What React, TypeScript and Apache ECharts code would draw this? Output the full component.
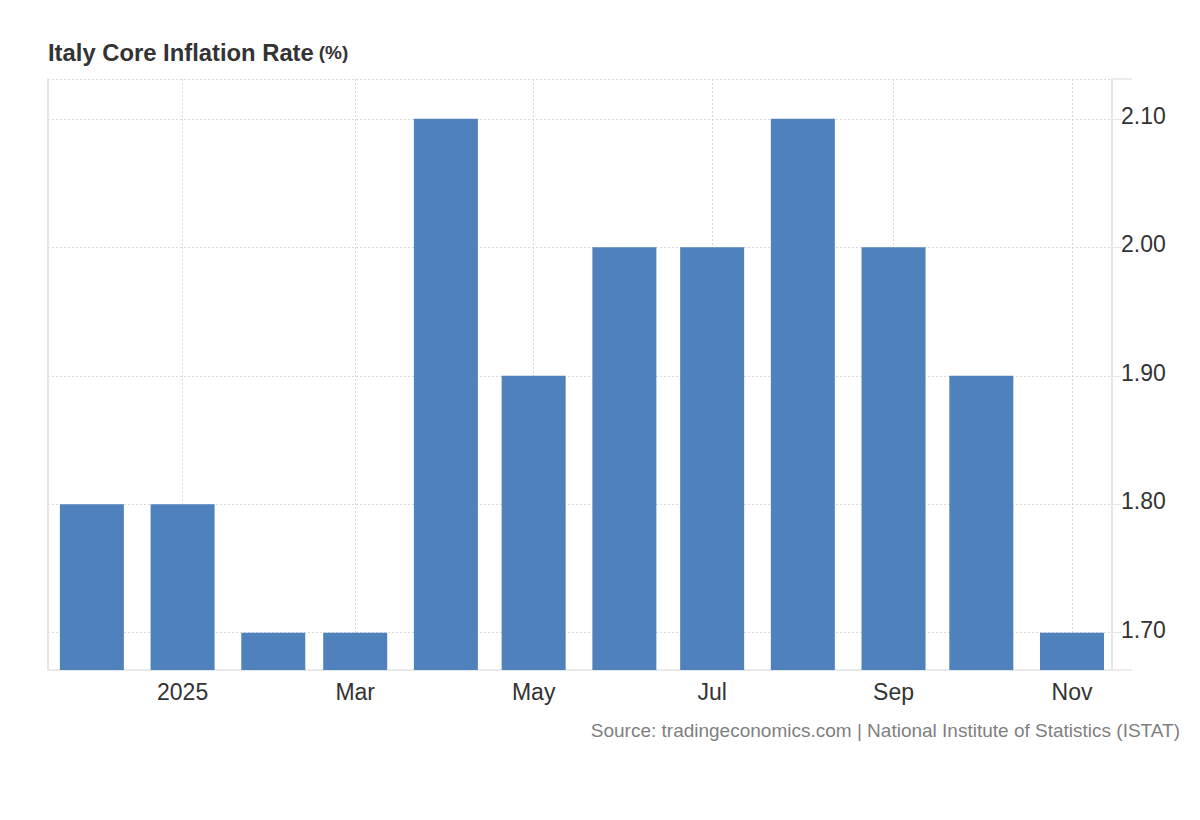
import React, { useEffect, useRef } from "react";
import * as echarts from "echarts";

const months = [
  "2024-12", "2025-01", "2025-02", "2025-03", "2025-04", "2025-05",
  "2025-06", "2025-07", "2025-08", "2025-09", "2025-10", "2025-11",
];
const values = [1.8, 1.8, 1.7, 1.7, 2.1, 1.9, 2.0, 2.0, 2.1, 2.0, 1.9, 1.7];
const monthNames = ["Jan", "Feb", "Mar", "Apr", "May", "Jun", "Jul", "Aug", "Sep", "Oct", "Nov", "Dec"];
const titleText = "Italy Core Inflation Rate";
const unitText = "(%)";
const sourceText = "Source: tradingeconomics.com | National Institute of Statistics (ISTAT)";

const FONT = "'Liberation Sans', Arial, Helvetica, sans-serif";

export default function App() {
  const ref = useRef<HTMLDivElement>(null);
  useEffect(() => {
    if (!ref.current) return;
    const chart = echarts.init(ref.current, undefined, { renderer: "svg" });
    const data = months.map((m, i) => {
      const [y, mo] = m.split("-").map(Number);
      return [new Date(y, mo - 1, 1).getTime(), values[i]];
    });
    const yMin = 1.671;
    const yMax = 2.131;
    const gridLeft = 48;
    const gridRight = 88;
    const plotW = 1200 - gridLeft - gridRight;
    const barWidth = 64;
    // Desired visible time window; ECharts widens a time axis by half a bar on each side
    // when it carries bars, so pre-shrink the window by that amount.
    const minD = new Date(2024, 10, 16).getTime();
    const maxD = new Date(2025, 10, 14, 16).getTime();
    const shift = (barWidth / 2) * (maxD - minD) / plotW;
    const gridLine = { show: true, lineStyle: { color: "#d9d9d9", type: [2, 2], width: 1 } };
    chart.setOption({
      animation: false,
      textStyle: { fontFamily: FONT },
      title: [
        {
          text: `{a|${titleText}} {b|${unitText}}`,
          left: 48,
          top: 40,
          textStyle: {
            rich: {
              a: { fontSize: 23.8, fontWeight: "bold", color: "#333333", fontFamily: FONT },
              b: { fontSize: 19, fontWeight: "bold", color: "#333333", fontFamily: FONT },
            },
          },
          padding: 0,
        },
        {
          text: sourceText,
          right: 20,
          top: 721,
          padding: 0,
          textStyle: { fontSize: 19, fontWeight: "normal", color: "#7f7f7f", fontFamily: FONT },
        },
      ],
      grid: { left: gridLeft, right: gridRight, top: 79, bottom: 150, containLabel: false },
      xAxis: {
        type: "time",
        min: minD + shift,
        max: maxD - shift,
        splitNumber: 5,
        axisLine: { show: true, lineStyle: { color: "#e6e6e6", width: 1.5 } },
        axisTick: { show: false },
        splitLine: gridLine,
        axisLabel: {
          fontSize: 23,
          color: "#333333",
          margin: 10,
          fontFamily: FONT,
          formatter: (v: number) => {
            const d = new Date(v);
            if (d.getDate() !== 1 || d.getHours() !== 0) return "";
            return d.getMonth() === 0 ? String(d.getFullYear()) : monthNames[d.getMonth()];
          },
        },
      },
      yAxis: [
        {
          type: "value",
          position: "right",
          min: yMin,
          max: yMax,
          axisLine: { show: true, lineStyle: { color: "#e6e6e6", width: 2 } },
          axisTick: { show: true, length: 9, lineStyle: { color: "#e6e6e6" } },
          splitLine: gridLine,
          axisLabel: {
            fontSize: 23,
            color: "#333333",
            margin: 9,
            fontFamily: FONT,
            showMinLabel: false,
            showMaxLabel: false,
            formatter: (v: number) => `{v|${v.toFixed(2)}}`,
            rich: {
              v: { fontSize: 23, color: "#333333", fontFamily: FONT, padding: [0, 0, 6, 0] },
            },
          },
        },
        {
          type: "value",
          position: "left",
          min: yMin,
          max: yMax,
          axisLine: { show: true, lineStyle: { color: "#e6e6e6", width: 2 } },
          axisTick: { show: false },
          splitLine: { show: false },
          axisLabel: { show: false },
        },
        {
          type: "value",
          position: "right",
          min: 0,
          max: 1,
          interval: 1,
          axisLine: { show: false },
          axisTick: { show: true, length: 20, lineStyle: { color: "#e6e6e6", width: 1.5 } },
          splitLine: { show: false },
          axisLabel: { show: false },
        },
      ],
      series: [
        {
          type: "bar",
          yAxisIndex: 0,
          data,
          barWidth,
          itemStyle: { color: "#4f81bd" },
        },
      ],
    });
    return () => chart.dispose();
  }, []);
  return (
    <div
      ref={ref}
      style={{ position: "fixed", left: 0, top: 0, width: 1200, height: 820, background: "#ffffff" }}
    />
  );
}
